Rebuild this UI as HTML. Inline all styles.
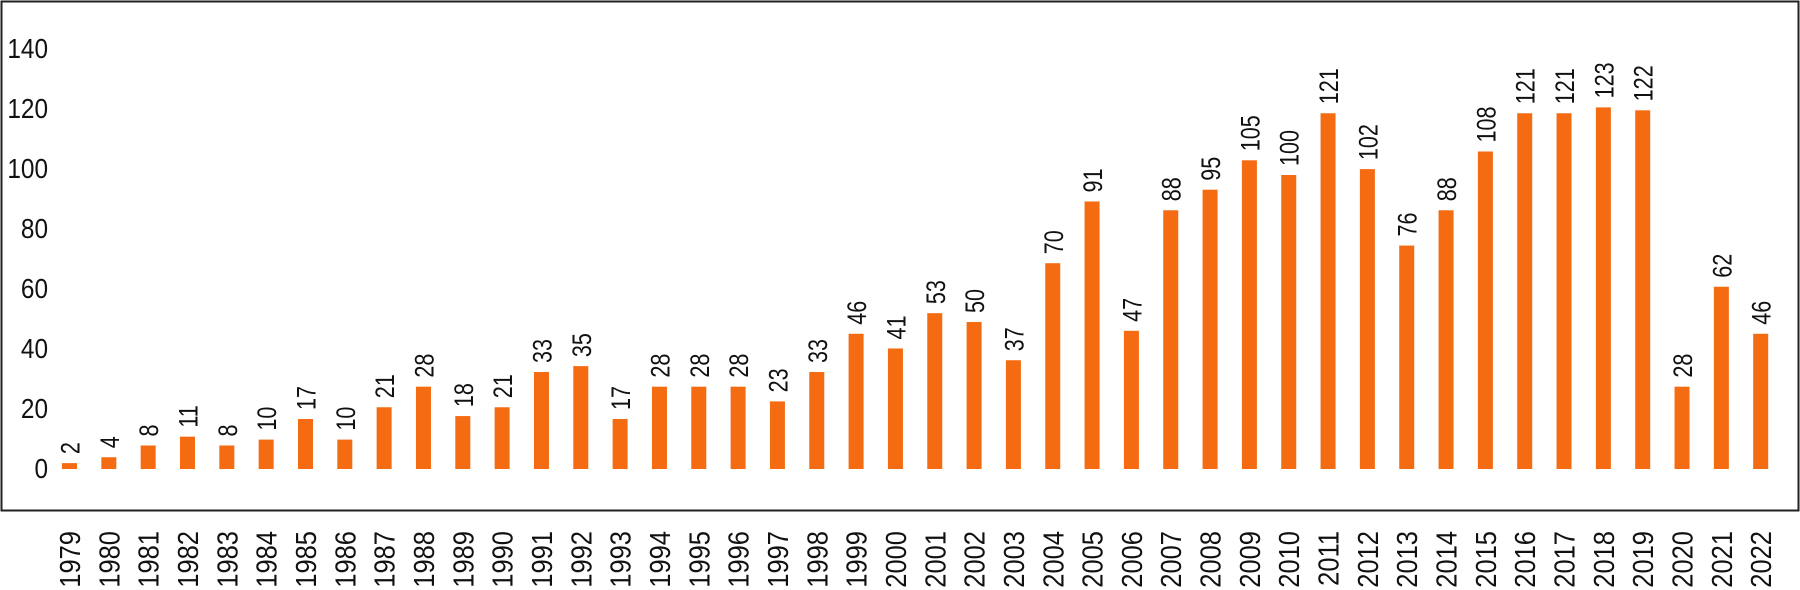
<!DOCTYPE html>
<html><head><meta charset="utf-8"><style>
html,body{margin:0;padding:0;background:#fff;}
svg{display:block;font-family:"Liberation Sans",Arial,sans-serif;}
</style></head><body>
<svg id="chart" width="1800" height="590" viewBox="0 0 1800 590">
<rect x="1.5" y="1.5" width="1797" height="509" fill="none" stroke="#222" stroke-width="2"/>
<g id="yaxis"></g>
<g id="bars"></g>
<g id="xaxis"></g>
</svg>
<script>
const years = [1979,1980,1981,1982,1983,1984,1985,1986,1987,1988,1989,1990,1991,1992,1993,1994,1995,1996,1997,1998,1999,2000,2001,2002,2003,2004,2005,2006,2007,2008,2009,2010,2011,2012,2013,2014,2015,2016,2017,2018,2019,2020,2021,2022];
const values = [2,4,8,11,8,10,17,10,21,28,18,21,33,35,17,28,28,28,23,33,46,41,53,50,37,70,91,47,88,95,105,100,121,102,76,88,108,121,121,123,122,28,62,46];
const yTicks = [0,20,40,60,80,100,120,140];

const NS = "http://www.w3.org/2000/svg";
const y0 = 469, pxPerUnit = 2.94, x0 = 69.5, step = 39.33, barW = 15;
function yScale(v){ return y0 - v * pxPerUnit; }
function tickY(v){ return 468 - v * 3.0; }
function xScale(i){ return x0 + i * step; }
function mk(tag, attrs, parent){
  const e = document.createElementNS(NS, tag);
  for (const k in attrs) e.setAttribute(k, attrs[k]);
  parent.appendChild(e); return e;
}
const yg = document.getElementById('yaxis');
yTicks.forEach(t => {
  const tx = mk('text', {x: 0, y: 0, 'text-anchor': 'end', 'font-size': 28, fill: '#111', transform: `translate(48 ${tickY(t) + 10}) scale(0.87 1)`}, yg);
  
  
  tx.textContent = t;
});
const bg = document.getElementById('bars');
const xg = document.getElementById('xaxis');
values.forEach((v, i) => {
  const cx = xScale(i);
  const r = mk('rect', {x: cx - barW/2, y: yScale(v), width: barW, height: v * pxPerUnit, fill: '#f46b11'}, bg);
  
  
  const ly = yScale(v) - 9;
  const lt = mk('text', {x: 0, y: 0, 'font-size': 27, fill: '#111', 'text-anchor': 'start', transform: `translate(${cx + 10} ${ly}) rotate(-90) scale(0.8 1)`}, bg);
  
  
  lt.textContent = v;
  const yt = mk('text', {x: 0, y: 0, 'font-size': 29, fill: '#111', 'text-anchor': 'end', transform: `translate(${cx + 10.5} 531) rotate(-90) scale(0.88 1)`}, xg);
  
  
  yt.textContent = years[i];
});
</script>
</body></html>
